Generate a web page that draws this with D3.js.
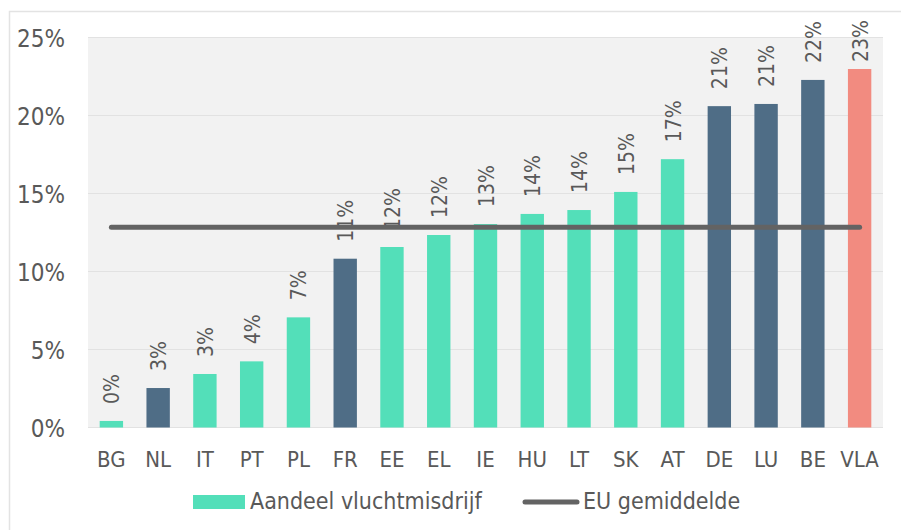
<!DOCTYPE html>
<html>
<head>
<meta charset="utf-8">
<script src="https://cdn.jsdelivr.net/npm/d3@7"></script>
<style>
  body { margin: 0; background: #fff; }
  text { font-family: "DejaVu Sans Condensed", "DejaVu Sans", sans-serif; fill: #595959; }
</style>
</head>
<body>
<svg id="chart" width="901" height="530"></svg>
<script>
// Aandeel vluchtmisdrijf per land, met EU gemiddelde

var countries = ["BG", "NL", "IT", "PT", "PL", "FR", "EE", "EL", "IE", "HU", "LT", "SK", "AT", "DE", "LU", "BE", "VLA"];
var shares = [0.42, 2.53, 3.43, 4.24, 7.06, 10.82, 11.57, 12.34, 13.04, 13.69, 13.94, 15.1, 17.2, 20.6, 20.74, 22.28, 22.98];
var euAverage = 12.83;
var neighbours = ["NL", "FR", "DE", "LU", "BE"];
var flanders = "VLA";
var yTicks = [0, 5, 10, 15, 20, 25];
var seriesNames = ["Aandeel vluchtmisdrijf", "EU gemiddelde"];

var svg = d3.select("#chart");
var plot = { left: 88, right: 883, top: 37.5, bottom: 427.5 };

var x = d3.scaleBand()
  .domain(countries)
  .range([plot.left, plot.right])
  .paddingInner(0.5)
  .paddingOuter(0.25);

var y = d3.scaleLinear()
  .domain([0, 25])
  .range([plot.bottom, plot.top]);

var barColor = function (c) {
  if (c === flanders) return "#f28b80";
  if (neighbours.indexOf(c) >= 0) return "#4f6d86";
  return "#53dfb9";
};

// outer frame
svg.append("rect")
  .attr("x", 9.5).attr("y", 11.5)
  .attr("width", 905).attr("height", 540)
  .attr("fill", "none")
  .attr("stroke", "#e3e3e3")
  .attr("stroke-width", 1.5);

// plot background
svg.append("rect")
  .attr("x", plot.left).attr("y", plot.top)
  .attr("width", plot.right - plot.left)
  .attr("height", plot.bottom - plot.top)
  .attr("fill", "#f2f2f2");

// gridlines
svg.append("g").selectAll("line")
  .data(yTicks)
  .enter().append("line")
  .attr("x1", plot.left).attr("x2", plot.right)
  .attr("y1", function (d) { return y(d); })
  .attr("y2", function (d) { return y(d); })
  .attr("stroke", "#e2e2e2")
  .attr("stroke-width", 1.2);

// y axis labels
svg.append("g").selectAll("text")
  .data(yTicks)
  .enter().append("text")
  .attr("x", 65)
  .attr("y", function (d) { return y(d) + 9; })
  .attr("text-anchor", "end")
  .style("font-size", "24px")
  .text(function (d) { return d + "%"; });

// bars
svg.append("g").selectAll("rect")
  .data(countries)
  .enter().append("rect")
  .attr("x", function (c) { return x(c); })
  .attr("width", x.bandwidth())
  .attr("y", function (c, i) { return y(shares[i]); })
  .attr("height", function (c, i) { return y(0) - y(shares[i]); })
  .attr("fill", barColor);

// data labels (rotated), kept inside the chart at the top
var labels = svg.append("g").selectAll("text")
  .data(countries)
  .enter().append("text")
  .style("font-size", "21px")
  .text(function (c, i) { return Math.round(shares[i]) + "%"; });

labels.attr("transform", function (c, i) {
  var len = this.getComputedTextLength();
  var cx = x(c) + x.bandwidth() / 2 + 8;
  var cy = Math.max(y(shares[i]) - 17, 20 + len);
  return "translate(" + cx + "," + cy + ") rotate(-90)";
});

// category labels
svg.append("g").selectAll("text")
  .data(countries)
  .enter().append("text")
  .attr("x", function (c) { return x(c) + x.bandwidth() / 2; })
  .attr("y", 467)
  .attr("text-anchor", "middle")
  .style("font-size", "22px")
  .text(function (c) { return c; });

// EU average line, drawn over bars and labels
var line = d3.line()
  .x(function (c) { return x(c) + x.bandwidth() / 2; })
  .y(function () { return y(euAverage); });

svg.append("path")
  .datum(countries)
  .attr("d", line)
  .attr("fill", "none")
  .attr("stroke", "#636363")
  .attr("stroke-width", 5)
  .attr("stroke-linecap", "round");

// legend
var legend = svg.append("g");
legend.append("rect")
  .attr("x", 193).attr("y", 495)
  .attr("width", 52).attr("height", 14)
  .attr("fill", "#53dfb9");
legend.append("text")
  .attr("x", 250).attr("y", 509)
  .style("font-size", "23px")
  .text(seriesNames[0]);
legend.append("line")
  .attr("x1", 525).attr("x2", 577)
  .attr("y1", 502).attr("y2", 502)
  .attr("stroke", "#636363")
  .attr("stroke-width", 5)
  .attr("stroke-linecap", "round");
legend.append("text")
  .attr("x", 583).attr("y", 509)
  .style("font-size", "23px")
  .text(seriesNames[1]);
</script>
</body>
</html>
